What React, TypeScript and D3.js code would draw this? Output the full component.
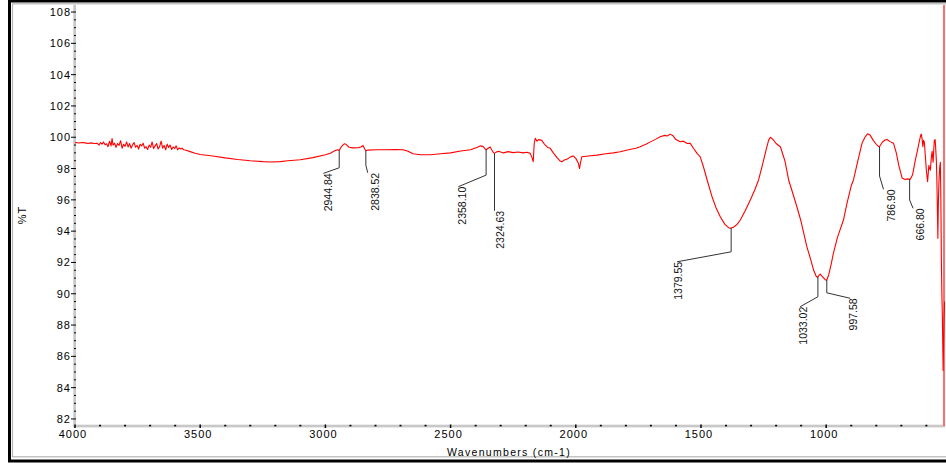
import React from "react";
import * as d3 from "d3";

// FTIR spectrum (cm-1, %T)
// noisy high-wavenumber end
const noiseWn = [
  4000, 3996, 3984, 3972, 3960, 3948, 3936, 3924, 3912, 3904,
  3898, 3892, 3886, 3880, 3874, 3868, 3862, 3856, 3852, 3848,
  3842, 3836, 3830, 3824, 3818, 3812, 3806, 3800, 3794, 3788,
  3782, 3776, 3770, 3764, 3758, 3752, 3746, 3740, 3734, 3728,
  3722, 3716, 3710, 3704, 3698, 3692, 3686, 3680, 3674, 3668,
  3662, 3656, 3650, 3644, 3638, 3632, 3626, 3620, 3614, 3608,
  3602, 3596, 3590, 3584, 3578, 3572, 3566, 3560, 3540, 3520,
  3500,
];
const noiseT = [
  99.65, 99.66, 99.63, 99.66, 99.64, 99.6, 99.64, 99.6, 99.62, 99.5,
  99.66, 99.56, 99.7, 99.52, 99.58, 99.4, 99.75, 99.45, 99.92, 99.5,
  99.62, 99.35, 99.6, 99.48, 99.78, 99.3, 99.55, 99.42, 99.7, 99.38,
  99.6, 99.3, 99.5, 99.66, 99.36, 99.48, 99.25, 99.55, 99.45, 99.62,
  99.3, 99.4, 99.22, 99.5, 99.36, 99.7, 99.28, 99.45, 99.6, 99.25,
  99.4, 99.75, 99.3, 99.48, 99.2, 99.56, 99.35, 99.5, 99.22, 99.38,
  99.28, 99.45, 99.2, 99.32, 99.25, 99.3, 99.2, 99.18, 99.08, 98.98,
  98.9,
];
// rest of the spectrum
const restWn = [
  3450, 3400, 3350, 3300, 3250, 3220, 3180, 3150, 3100, 3050, 3000,
  2980, 2965, 2952, 2945, 2935, 2925, 2918, 2905, 2890, 2870, 2858, 2850, 2843, 2838, 2830, 2800,
  2760, 2720, 2690, 2670, 2650, 2620, 2580, 2540, 2500, 2460, 2420, 2395, 2380, 2370, 2362, 2358,
  2350, 2342, 2336, 2330, 2325, 2318, 2308, 2290, 2270, 2250, 2230, 2210, 2195, 2182, 2175, 2170,
  2166, 2162, 2155, 2148, 2136, 2125, 2112, 2102, 2090, 2075, 2064, 2056, 2046, 2036, 2025, 2016,
  2009, 2000, 1990, 1985, 1981, 1976, 1950, 1916, 1880, 1850, 1823, 1790, 1760, 1743, 1720, 1700,
  1680, 1663, 1645, 1635, 1623, 1612, 1600, 1583, 1570, 1555, 1543, 1530, 1515, 1503, 1490, 1476,
  1456, 1440, 1423, 1405, 1390, 1383, 1370, 1355, 1343, 1325, 1303, 1285, 1270, 1255, 1240, 1230,
  1223, 1212, 1200, 1183, 1165, 1150, 1135, 1117, 1100, 1077, 1062, 1050, 1040, 1035, 1030, 1024,
  1015, 1004, 998, 990, 980, 971, 955, 931, 917, 900, 891, 875, 857, 845, 835, 825,
  812, 800, 790, 786, 775, 765, 757, 745, 731, 720, 710, 697, 685, 676, 664, 655,
  644, 635, 627, 622, 620, 617, 614, 611, 608, 604, 600, 595, 590, 587, 584, 580,
  577, 573, 570, 568, 565, 563, 560, 558, 556, 554, 552, 550, 547, 544, 542, 540,
  538, 536, 533, 531, 529, 527,
];
const restT = [
  98.8, 98.68, 98.58, 98.5, 98.44, 98.42, 98.44, 98.5, 98.56, 98.7, 98.88,
  98.98, 99.12, 99.2, 99.16, 99.42, 99.58, 99.55, 99.36, 99.32, 99.33, 99.38, 99.48, 99.25, 99.14, 99.18, 99.2,
  99.2, 99.22, 99.2, 99.1, 98.95, 98.88, 98.88, 98.95, 99.0, 99.12, 99.2, 99.35, 99.45, 99.4, 99.25, 99.2,
  99.3, 99.38, 99.2, 99.05, 98.97, 99.05, 99.1, 99.0, 99.08, 99.02, 99.06, 99.0, 99.04, 98.97, 98.7, 98.44,
  99.6, 99.93, 99.75, 99.85, 99.8, 99.55, 99.35, 99.29, 99.0, 98.7, 98.5, 98.43, 98.55, 98.59, 98.7, 98.78,
  98.8, 98.65, 98.35, 98.0, 98.4, 98.75, 98.8, 98.86, 98.95, 99.0, 99.07, 99.2, 99.3, 99.39, 99.55, 99.72,
  99.88, 100.03, 100.12, 100.08, 100.2, 100.1, 99.85, 99.71, 99.75, 99.6, 99.61, 99.3, 98.95, 98.75, 98.1, 97.3,
  96.2, 95.5, 94.92, 94.45, 94.22, 94.18, 94.25, 94.45, 94.71, 95.25, 95.99, 96.65, 97.27, 98.2, 99.2, 99.8,
  100.0, 99.85, 99.6, 99.39, 98.5, 97.27, 96.5, 95.56, 94.6, 93.0, 92.2, 91.5, 91.12, 91.05, 91.15, 91.26,
  91.1, 90.9, 90.86, 91.2, 91.9, 92.6, 93.6, 94.71, 95.78, 96.9, 97.27, 98.4, 99.61, 100.0, 100.22, 100.15,
  99.8, 99.55, 99.4, 99.42, 99.7, 99.82, 99.86, 99.72, 99.61, 99.0, 98.2, 97.4, 97.3, 97.34, 97.31, 97.6,
  98.54, 99.2, 99.82, 100.15, 100.2, 99.9, 99.4, 99.8, 99.7, 98.8, 97.9, 97.16, 98.2, 98.0, 97.9, 98.7,
  99.1, 98.4, 99.3, 99.8, 99.85, 99.4, 98.5, 97.3, 95.5, 93.54, 95.8, 97.0, 98.0, 98.4, 96.0, 92.15,
  90.0, 88.5, 85.1, 87.0, 88.5, 89.5,
];

const yMajorTicks = [82, 84, 86, 88, 90, 92, 94, 96, 98, 100, 102, 104, 106, 108];
const xMajorTicks = [4000, 3500, 3000, 2500, 2000, 1500, 1000];

const peakWn = [2944.84, 2838.52, 2358.1, 2324.63, 1379.55, 1033.02, 997.58, 786.9, 666.8];
const peakLabels = ["2944.84", "2838.52", "2358.10", "2324.63", "1379.55", "1033.02", "997.58", "786.90", "666.80"];

// leader lines, in data units: elbow %T, end of leader (wn, %T), text centre wn
const leaders = [
  { elbowT: 98.05, endWn: 3008, endT: 97.69, textWn: 2990 },
  { elbowT: 98.22, endWn: 2831, endT: 97.73, textWn: 2801 },
  { elbowT: 97.58, endWn: 2469, endT: 96.84, textWn: 2455 },
  { elbowT: 95.3, endWn: 2324.63, endT: 95.3, textWn: 2302 },
  { elbowT: 92.68, endWn: 1596, endT: 92.04, textWn: 1590 },
  { elbowT: 89.81, endWn: 1104, endT: 89.17, textWn: 1092 },
  { elbowT: 90.06, endWn: 904, endT: 89.71, textWn: 892 },
  { elbowT: 97.52, endWn: 771, endT: 96.67, textWn: 741 },
  { elbowT: 95.99, endWn: 653, endT: 95.46, textWn: 624 },
];

const W = 946;
const H = 463;
const font = "'Liberation Sans', Arial, sans-serif";

const App = () => {
  const x = d3.scaleLinear().domain([4000, 525.5]).range([75, 945]);
  const y = d3.scaleLinear().domain([108.45, 81.55]).range([5, 426]);

  const wn = noiseWn.concat(restWn);
  const tr = noiseT.concat(restT);
  const pts: [number, number][] = wn.map((w, i) => [w, tr[i]]);
  const line = d3
    .line<[number, number]>()
    .x((d) => x(d[0]))
    .y((d) => y(d[1]));

  // %T on the curve at a given wavenumber
  const bis = d3.bisector((d: [number, number]) => -d[0]).left;
  const curveAt = (w: number) => {
    const i = Math.max(1, bis(pts, -w));
    const a = pts[i - 1];
    const b = pts[Math.min(i, pts.length - 1)];
    if (a[0] === b[0]) return a[1];
    return a[1] + ((w - a[0]) / (b[0] - a[0])) * (b[1] - a[1]);
  };

  const yMinor = d3.range(82, 108.01, 0.5).filter((v) => v % 2 !== 0);
  const xMinor = d3.range(4000, 500, -100).filter((v) => v % 500 !== 0 && v > 525.5);

  return (
    <>
      <style>{"body{margin:0}"}</style>
      <svg width={W} height={H} style={{ display: "block", background: "#fff" }}>
        <defs>
          <clipPath id="plot">
            <rect x={75} y={5} width={870} height={421} />
          </clipPath>
        </defs>

        {/* frame */}
        <rect x={9.5} y={1} width={950} height={460} fill="none" stroke="#000" strokeWidth={3} />
        <rect x={12.5} y={3.8} width={950} height={453} fill="none" stroke="#b4b4b4" strokeWidth={1.2} />

        {/* axis bars */}
        <rect x={73.3} y={5} width={2.7} height={422} fill="#c8c8c8" />
        <rect x={73.3} y={424.7} width={872} height={2.7} fill="#c8c8c8" />

        {/* y ticks */}
        {yMajorTicks.map((v) => (
          <g key={"ym" + v}>
            <line x1={71} x2={76} y1={y(v)} y2={y(v)} stroke="#000" strokeWidth={1} />
            <text
              x={71}
              y={y(v)}
              dy="0.36em"
              textAnchor="end"
              fontFamily={font}
              fontSize={11}
              letterSpacing={1}
              fill="#000"
            >
              {v}
            </text>
          </g>
        ))}
        {yMinor.map((v) => (
          <line key={"yn" + v} x1={74} x2={76} y1={y(v)} y2={y(v)} stroke="#000" strokeWidth={1} />
        ))}

        {/* x ticks */}
        {xMajorTicks.map((v) => (
          <g key={"xm" + v}>
            <line x1={x(v)} x2={x(v)} y1={424.5} y2={428} stroke="#000" strokeWidth={1.5} />
            <text
              x={x(v) - 2}
              y={437.5}
              textAnchor="middle"
              fontFamily={font}
              fontSize={11}
              letterSpacing={1}
              fill="#000"
            >
              {v}
            </text>
          </g>
        ))}
        {xMinor.map((v) => (
          <rect key={"xn" + v} x={x(v) - 1} y={424.8} width={2} height={1.6} fill="#000" />
        ))}

        {/* axis titles */}
        <text
          x={509}
          y={456}
          textAnchor="middle"
          fontFamily={font}
          fontSize={10.5}
          letterSpacing={1.3}
          fill="#000"
        >
          Wavenumbers (cm-1)
        </text>
        <text
          transform="translate(22,215) rotate(-90)"
          textAnchor="middle"
          dy="0.35em"
          fontFamily={font}
          fontSize={11}
          letterSpacing={1}
          fill="#000"
        >
          %T
        </text>

        {/* spectrum */}
        <g clipPath="url(#plot)">
          <line x1={944} x2={944} y1={5} y2={426} stroke="#ff6e6e" strokeWidth={2} />
          <path d={line(pts) || ""} fill="none" stroke="#ff0000" strokeWidth={1.1} strokeLinejoin="round" />
        </g>

        {/* peak annotations */}
        {peakWn.map((w, i) => {
          const l = leaders[i];
          const px = x(w);
          const py = y(curveAt(w));
          return (
            <g key={"pk" + i}>
              <polyline
                points={`${px},${py} ${px},${y(l.elbowT)} ${x(l.endWn)},${y(l.endT)}`}
                fill="none"
                stroke="#333"
                strokeWidth={1}
              />
              <text
                transform={`translate(${x(l.textWn)},${y(l.endT)}) rotate(-90)`}
                textAnchor="end"
                dy="0.36em"
                fontFamily={font}
                fontSize={10.5}
                fill="#111"
              >
                {peakLabels[i]}
              </text>
            </g>
          );
        })}
      </svg>
    </>
  );
};

export default App;
